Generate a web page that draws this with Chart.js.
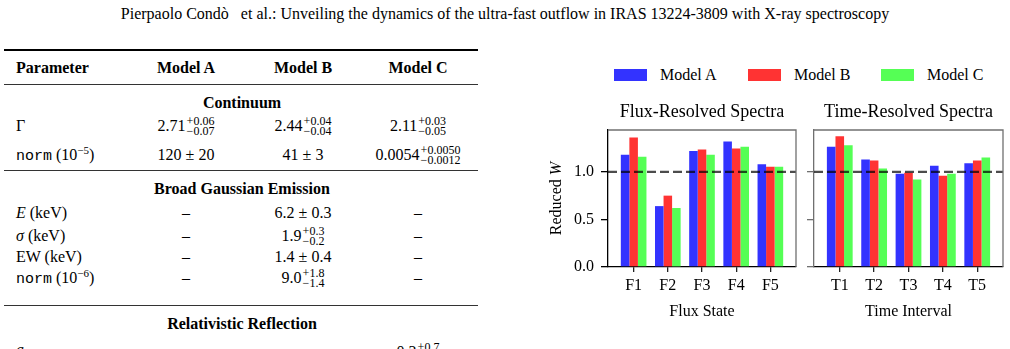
<!DOCTYPE html>
<html>
<head>
<meta charset="utf-8">
<script src="https://cdn.jsdelivr.net/npm/chart.js@4.4.0/dist/chart.umd.min.js"></script>
<style>
  body { margin: 0; width: 1010px; height: 349px; overflow: hidden; background: #fff; color: #000;
         font-family: "Liberation Serif", "Times New Roman", serif; position: relative; }
  #runhead { position: absolute; left: 0; top: 5px; width: 1010px; text-align: center; font-size: 16px; white-space: pre; }
  .rule { position: absolute; left: 4px; width: 474px; background: #333; height: 1px; }
  .row { position: absolute; left: 0; width: 480px; height: 20px; line-height: 20px; font-size: 16px; }
  .row span { position: absolute; top: 0; white-space: nowrap; }
  .row .p { left: 16px; }
  .row .a, .row .b, .row .c { width: 120px; text-align: center; }
  .row .a { left: 126px; }
  .row .b { left: 243px; }
  .row .c { left: 358px; }
  .row .sec { left: 0; width: 484px; text-align: center; font-weight: bold; }
  .row.head span { font-weight: bold; }
  .tt { font-family: "Liberation Mono", "DejaVu Sans Mono", monospace; font-size: 15px; }
  .st { display: inline-block !important; position: static !important; vertical-align: -4px; font-size: 12px;
        line-height: 10px; text-align: left; margin-left: 1px; }
  .st i { display: block; font-style: normal; }
  sup { font-size: 11px; line-height: 0; }
  .sw { position: absolute; top: 69px; width: 33px; height: 12px; }
  .lt { position: absolute; top: 66px; font-size: 16px; line-height: 18px; }
  canvas { position: absolute; }
</style>
</head>
<body>
<div id="runhead">Pierpaolo Condò   et al.: Unveiling the dynamics of the ultra-fast outflow in IRAS 13224-3809 with X-ray spectroscopy</div>

<!-- table -->
<div class="rule" style="top:49px;height:1.6px;background:#000"></div>
<div class="row head" style="top:58px"><span class="p">Parameter</span><span class="a">Model A</span><span class="b">Model B</span><span class="c">Model C</span></div>
<div class="rule" style="top:84px"></div>
<div class="row" style="top:93px"><span class="sec">Continuum</span></div>
<div class="row" style="top:116px"><span class="p">Γ</span>
  <span class="a">2.71<span class="st"><i>+0.06</i><i>−0.07</i></span></span>
  <span class="b">2.44<span class="st"><i>+0.04</i><i>−0.04</i></span></span>
  <span class="c">2.11<span class="st"><i>+0.03</i><i>−0.05</i></span></span></div>
<div class="row" style="top:145px"><span class="p"><span class="tt" style="position:static">norm</span> (10<sup>−5</sup>)</span>
  <span class="a">120 ± 20</span><span class="b">41 ± 3</span>
  <span class="c">0.0054<span class="st"><i>+0.0050</i><i>−0.0012</i></span></span></div>
<div class="rule" style="top:170px"></div>
<div class="row" style="top:179px"><span class="sec">Broad Gaussian Emission</span></div>
<div class="row" style="top:203px"><span class="p"><em>E</em> (keV)</span><span class="a">–</span><span class="b">6.2 ± 0.3</span><span class="c">–</span></div>
<div class="row" style="top:226px"><span class="p"><em>σ</em> (keV)</span><span class="a">–</span>
  <span class="b">1.9<span class="st"><i>+0.3</i><i>−0.2</i></span></span><span class="c">–</span></div>
<div class="row" style="top:247px"><span class="p">EW (keV)</span><span class="a">–</span><span class="b">1.4 ± 0.4</span><span class="c">–</span></div>
<div class="row" style="top:268px"><span class="p"><span class="tt" style="position:static">norm</span> (10<sup>−6</sup>)</span><span class="a">–</span>
  <span class="b">9.0<span class="st"><i>+1.8</i><i>−1.4</i></span></span><span class="c">–</span></div>
<div class="rule" style="top:305px"></div>
<div class="row" style="top:314px"><span class="sec">Relativistic Reflection</span></div>
<div class="row" style="top:340px"><span class="p"><em>a</em></span>
  <span class="c" style="top:2px">0.3<span class="st"><i>+0.7</i><i>−0.1</i></span></span></div>

<!-- legend -->
<div class="sw" style="left:614px;background:#3333ff"></div><div class="lt" style="left:660px">Model A</div>
<div class="sw" style="left:748px;background:#ff3333"></div><div class="lt" style="left:794px">Model B</div>
<div class="sw" style="left:881px;background:#55ff55"></div><div class="lt" style="left:927px">Model C</div>

<canvas id="fluxChart" width="262" height="230" style="left:540px;top:100px"></canvas>
<canvas id="timeChart" width="210" height="230" style="left:800px;top:100px"></canvas>

<script>
const fluxStates = ['F1', 'F2', 'F3', 'F4', 'F5'];
const timeIntervals = ['T1', 'T2', 'T3', 'T4', 'T5'];
const modelNames = ['Model A', 'Model B', 'Model C'];
const modelColors = ['#3333ff', '#ff3333', '#55ff55'];

const fluxModelA = [1.18, 0.64, 1.22, 1.32, 1.08];
const fluxModelB = [1.36, 0.75, 1.235, 1.245, 1.055];
const fluxModelC = [1.16, 0.62, 1.18, 1.265, 1.055];

const timeModelA = [1.265, 1.13, 0.98, 1.065, 1.09];
const timeModelB = [1.375, 1.12, 0.99, 0.96, 1.12];
const timeModelC = [1.28, 1.035, 0.92, 0.98, 1.15];

const yTicks = [0.0, 0.5, 1.0];
const yMax = 1.44;
const refLevel = 1.0;

Chart.defaults.font.family = '"Liberation Serif", "Times New Roman", serif';
Chart.defaults.color = '#000';

// dashed reference line at W = 1
const refLine = {
    id: 'refLine',
    afterDatasetsDraw(chart) {
        const { ctx, chartArea: a, scales: { y } } = chart;
        const py = y.getPixelForValue(refLevel);
        ctx.save();
        ctx.strokeStyle = 'rgba(0, 0, 0, 0.7)';
        ctx.lineWidth = 2.2;
        ctx.setLineDash([9, 4]);
        ctx.beginPath();
        ctx.moveTo(a.left, py);
        ctx.lineTo(a.right, py);
        ctx.stroke();
        ctx.restore();
    }
};

// top and right spines
const frame = {
    id: 'frame',
    afterDraw(chart) {
        const { ctx, chartArea: a } = chart;
        ctx.save();
        ctx.strokeStyle = '#707070';
        ctx.lineWidth = 1.3;
        ctx.beginPath();
        ctx.moveTo(a.left, a.top);
        ctx.lineTo(a.right, a.top);
        ctx.lineTo(a.right, a.bottom);
        ctx.stroke();
        ctx.restore();
    }
};

// rotated y label with italic W
const yLabel = {
    id: 'yLabel',
    afterDraw(chart, args, opts) {
        if (!opts.text) return;
        const { ctx, chartArea: a } = chart;
        const fam = Chart.defaults.font.family;
        ctx.save();
        ctx.translate(opts.x, (a.top + a.bottom) / 2);
        ctx.rotate(-Math.PI / 2);
        ctx.textBaseline = 'middle';
        ctx.fillStyle = '#000';
        ctx.font = '16px ' + fam;
        const w1 = ctx.measureText(opts.text).width;
        ctx.font = 'italic 16px ' + fam;
        const w2 = ctx.measureText(opts.italic).width;
        let x = -(w1 + w2) / 2;
        ctx.font = '16px ' + fam;
        ctx.fillText(opts.text, x, 0);
        ctx.font = 'italic 16px ' + fam;
        ctx.fillText(opts.italic, x + w1, 0);
        ctx.restore();
    }
};

function makeChart(id, title, cats, series, cfg) {
    const font = { size: 16 };
    return new Chart(document.getElementById(id), {
        type: 'bar',
        data: {
            datasets: series.map((vals, k) => ({
                label: modelNames[k],
                data: vals.map((v, i) => ({ x: i, y: v })),
                backgroundColor: modelColors[k],
                borderWidth: 0,
                categoryPercentage: 0.75,
                barPercentage: 1.0
            }))
        },
        options: {
            responsive: false,
            animation: false,
            layout: { padding: { right: cfg.padRight } },
            plugins: {
                legend: { display: false },
                tooltip: { enabled: false },
                title: {
                    display: true,
                    fullSize: false,
                    text: title,
                    color: '#000',
                    font: { size: 18, weight: 'normal' },
                    padding: { top: 1.2, bottom: 7.2 }
                },
                yLabel: cfg.yLabel || {}
            },
            scales: {
                x: {
                    type: 'linear',
                    min: -0.75,
                    max: cats.length - 0.25,
                    offset: false,
                    afterBuildTicks: s => { s.ticks = cats.map((c, i) => ({ value: i })); },
                    afterFit: s => { s.height = 63; },
                    ticks: {
                        callback: (v, i) => cats[i],
                        font: font, color: '#000', padding: 4,
                        maxRotation: 0, autoSkip: false
                    },
                    grid: { offset: false, drawOnChartArea: false, tickLength: 5, color: '#222', lineWidth: 1.3 },
                    border: { color: '#000', width: 1.3 },
                    title: { display: true, text: cfg.xTitle, font: font, color: '#000', padding: { top: 0, bottom: 8.6 } }
                },
                y: {
                    min: 0,
                    max: yMax,
                    afterBuildTicks: s => { s.ticks = yTicks.map(v => ({ value: v })); },
                    afterFit: s => { s.width = cfg.yWidth; },
                    ticks: {
                        callback: v => cfg.yLabels ? v.toFixed(1) : '',
                        font: font, color: '#000', padding: 7
                    },
                    grid: { drawOnChartArea: false, tickLength: 7, color: cfg.yColor, lineWidth: 1.3 },
                    border: { color: cfg.yColor, width: 1.3 }
                }
            }
        },
        plugins: [refLine, frame, yLabel]
    });
}

makeChart('fluxChart', 'Flux-Resolved Spectra', fluxStates, [fluxModelA, fluxModelB, fluxModelC], {
    padRight: 6, yWidth: 68, yLabels: true, yColor: '#000', xTitle: 'Flux State',
    yLabel: { text: 'Reduced ', italic: 'W', x: 17 }
});
makeChart('timeChart', 'Time-Resolved Spectra', timeIntervals, [timeModelA, timeModelB, timeModelC], {
    padRight: 7, yWidth: 14, yLabels: false, yColor: '#707070', xTitle: 'Time Interval'
});
</script>
</body>
</html>
